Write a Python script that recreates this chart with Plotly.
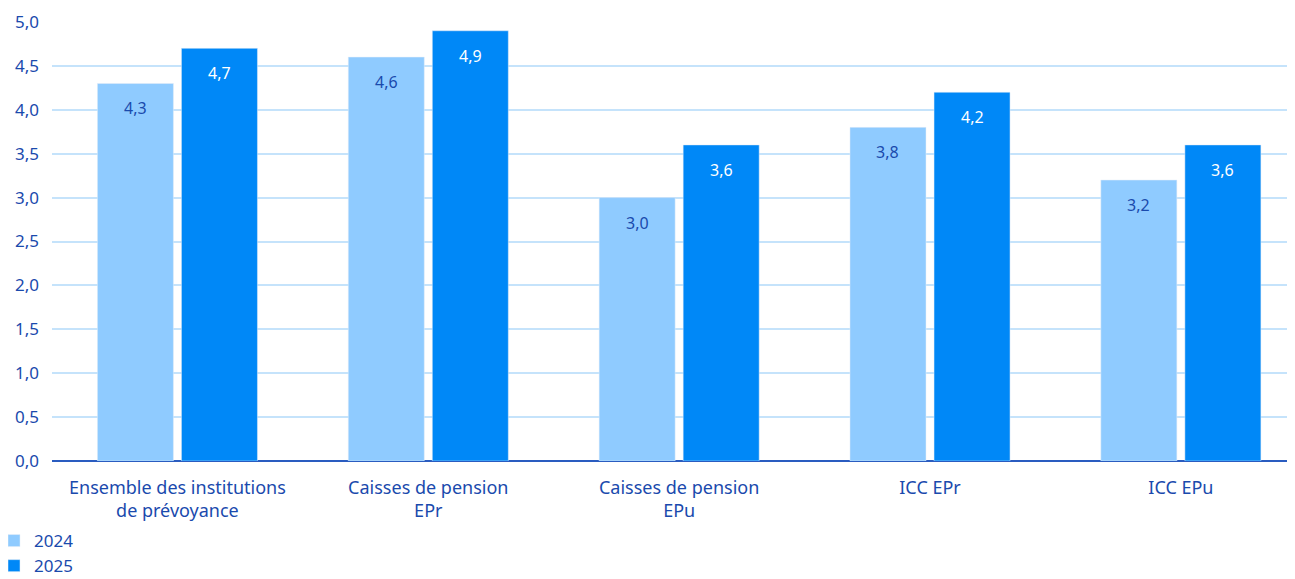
import plotly.graph_objects as go

categories = ["Ensemble des institutions<br>de prévoyance", "Caisses de pension<br>EPr",
              "Caisses de pension<br>EPu", "ICC EPr", "ICC EPu"]
years = ["2024", "2025"]
values_2024 = [4.3, 4.6, 3.0, 3.8, 3.2]
values_2025 = [4.7, 4.9, 3.6, 4.2, 3.6]
y_ticks = [0, 0.5, 1, 1.5, 2, 2.5, 3, 3.5, 4, 4.5, 5]

c2024 = "#8fcbff"
c2025 = "#0088f7"
txt = "#1a4aad"
font_family = "Noto Sans, Open Sans, sans-serif"

# page body has an 8px default margin, so the figure is offset by 8px
W, H = 1287, 571
L, T, B, R = 44, 14, 118, 5
PH = H - T - B
PW = W - L - R

xs = list(range(len(categories)))
bw = 0.303
fig = go.Figure()
fig.add_bar(x=xs, y=values_2024, name=years[0], marker_color=c2024,
            width=bw, offset=-bw - 0.016, hoverinfo="skip")
fig.add_bar(x=xs, y=values_2025, name=years[1], marker_color=c2025,
            width=bw, offset=0.016, hoverinfo="skip")

for vals, sign, col in [(values_2024, -1, txt), (values_2025, 1, "white")]:
    for i, v in enumerate(vals):
        fig.add_annotation(x=i + sign * (0.016 + bw / 2), y=v, xref="x", yref="y",
                           text=f"{v:.1f}".replace(".", ","), showarrow=False,
                           yanchor="top", yshift=-12,
                           font=dict(size=16, color=col, family=font_family))

fig.update_layout(
    width=W, height=H,
    margin=dict(l=L, r=R, t=T, b=B, autoexpand=False),
    plot_bgcolor="white", paper_bgcolor="white",
    separators=",.",
    barmode="overlay",
    font=dict(family=font_family, color=txt, size=18),
    showlegend=True,
    legend=dict(orientation="v", xref="paper", yref="paper",
                x=(-14 - L) / PW, y=-(515 - (T + PH)) / PH,
                xanchor="left", yanchor="top",
                font=dict(size=17, color=txt), itemwidth=30, tracegroupgap=0,
                traceorder="normal", bgcolor="rgba(0,0,0,0)"),
    xaxis=dict(tickmode="array", tickvals=xs, ticktext=categories,
               range=[-0.5, 4.435], showgrid=False, zeroline=False,
               showline=False, ticks="", automargin=False, ticklabelstandoff=14,
               tickfont=dict(size=18, color=txt)),
    yaxis=dict(range=[0, 5], tickvals=y_ticks, tickformat=".1f",
               showgrid=True, gridcolor="#c5e3fb", gridwidth=1.5,
               zeroline=True, zerolinecolor="#2a5cc0", zerolinewidth=2,
               ticks="", ticklabelstandoff=12, automargin=False,
               tickfont=dict(size=17, color=txt)),
)

fig.write_html("out.html")
